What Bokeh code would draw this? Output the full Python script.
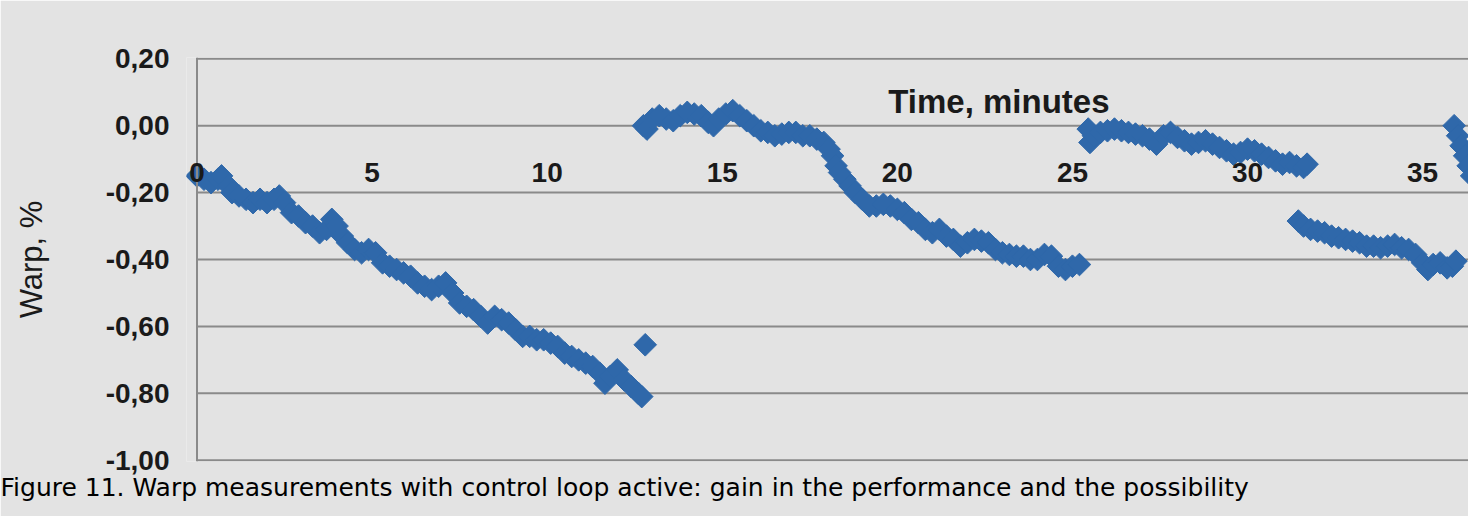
import math
from bokeh.plotting import figure
from bokeh.models import FixedTicker, Range1d, Label, LabelSet, ColumnDataSource, Span, Title
from bokeh.core.properties import value
from bokeh.embed import file_html
from bokeh.resources import INLINE

# ---------------- data ----------------
seg1_t = [0.0, 0.2, 0.4, 0.6, 0.7, 0.9, 1.0, 1.2, 1.4, 1.6, 1.8, 2.0, 2.2, 2.35, 2.5, 2.7, 2.9,
          3.1, 3.3, 3.5, 3.7, 3.85, 4.0, 4.15, 4.3, 4.5, 4.7, 4.9, 5.1, 5.3, 5.5, 5.7, 5.9,
          6.1, 6.3, 6.5, 6.7, 6.9, 7.1, 7.3, 7.5, 7.7, 7.9, 8.1, 8.3, 8.5, 8.7, 8.9, 9.1,
          9.3, 9.5, 9.7, 9.9, 10.1, 10.3, 10.5, 10.7, 10.9, 11.1, 11.3, 11.5, 11.65, 11.8,
          12.0, 12.2, 12.4, 12.6, 12.7]
seg1_w = [-0.15, -0.16, -0.17, -0.16, -0.15, -0.18, -0.20, -0.21, -0.22, -0.23, -0.22, -0.23,
          -0.22, -0.21, -0.23, -0.26, -0.27, -0.29, -0.30, -0.32, -0.31, -0.28, -0.30, -0.33,
          -0.35, -0.37, -0.38, -0.37, -0.38, -0.41, -0.42, -0.43, -0.44, -0.45, -0.47, -0.48,
          -0.49, -0.48, -0.47, -0.50, -0.53, -0.54, -0.55, -0.57, -0.59, -0.57, -0.58, -0.59,
          -0.61, -0.63, -0.63, -0.64, -0.64, -0.65, -0.66, -0.68, -0.69, -0.70, -0.71, -0.72,
          -0.74, -0.77, -0.75, -0.73, -0.76, -0.78, -0.80, -0.81]

outlier_t = [12.8]
outlier_w = [-0.655]

seg2_t = [12.75, 12.85, 13.0, 13.2, 13.4, 13.6, 13.8, 14.0, 14.2, 14.4, 14.6, 14.75, 14.9,
          15.1, 15.3, 15.5, 15.7, 15.9, 16.1, 16.3, 16.5, 16.7, 16.9, 17.1, 17.3, 17.5, 17.7,
          17.9, 18.05, 18.15, 18.25, 18.35, 18.5, 18.65, 18.8, 19.0, 19.2, 19.4, 19.6, 19.8,
          20.0, 20.2, 20.4, 20.6, 20.8, 21.0, 21.2, 21.4, 21.6, 21.8, 22.0, 22.2, 22.4, 22.6,
          22.8, 23.0, 23.2, 23.4, 23.6, 23.8, 24.0, 24.2, 24.4, 24.6, 24.8, 25.0, 25.2]
seg2_w = [0.00, -0.01, 0.02, 0.03, 0.02, 0.015, 0.03, 0.04, 0.035, 0.03, 0.01, 0.00, 0.02,
          0.035, 0.045, 0.03, 0.015, 0.00, -0.015, -0.02, -0.03, -0.025, -0.02, -0.02, -0.03,
          -0.03, -0.04, -0.05, -0.07, -0.09, -0.12, -0.14, -0.16, -0.18, -0.20, -0.22, -0.24,
          -0.24, -0.235, -0.24, -0.25, -0.26, -0.28, -0.29, -0.31, -0.32, -0.31, -0.33, -0.34,
          -0.36, -0.35, -0.34, -0.345, -0.35, -0.37, -0.38, -0.385, -0.39, -0.39, -0.40, -0.40,
          -0.385, -0.39, -0.42, -0.43, -0.42, -0.415]

seg3_t = [25.45, 25.5, 25.6, 25.8, 26.0, 26.2, 26.4, 26.6, 26.8, 27.0, 27.2, 27.4, 27.6, 27.8,
          28.0, 28.2, 28.4, 28.6, 28.8, 29.0, 29.2, 29.4, 29.6, 29.8, 30.0, 30.2, 30.4, 30.6,
          30.8, 31.0, 31.2, 31.4, 31.6, 31.7]
seg3_w = [-0.01, -0.05, -0.03, -0.02, -0.015, -0.01, -0.015, -0.02, -0.025, -0.03, -0.04,
          -0.055, -0.03, -0.02, -0.035, -0.045, -0.055, -0.05, -0.045, -0.055, -0.065, -0.075,
          -0.085, -0.08, -0.07, -0.075, -0.085, -0.095, -0.105, -0.115, -0.11, -0.12, -0.125,
          -0.115]

seg4_t = [31.45, 31.6, 31.8, 32.0, 32.2, 32.4, 32.6, 32.8, 33.0, 33.2, 33.4, 33.6, 33.8, 34.0,
          34.2, 34.4, 34.6, 34.8, 35.0, 35.15, 35.3, 35.5, 35.7, 35.85, 35.95]
seg4_w = [-0.285, -0.30, -0.31, -0.315, -0.32, -0.33, -0.335, -0.34, -0.345, -0.35, -0.36,
          -0.36, -0.365, -0.36, -0.355, -0.365, -0.37, -0.385, -0.41, -0.43, -0.415, -0.41,
          -0.425, -0.42, -0.405]

seg5_t = [35.9, 36.0, 36.1, 36.2, 36.3, 36.4]
seg5_w = [0.00, -0.03, -0.06, -0.09, -0.12, -0.15]

x_ticks = [0, 5, 10, 15, 20, 25, 30, 35]
x_tick_labels = ["0", "5", "10", "15", "20", "25", "30", "35"]
y_ticks = [0.2, 0.0, -0.2, -0.4, -0.6, -0.8, -1.0]
y_tick_labels = ["0,20", "0,00", "-0,20", "-0,40", "-0,60", "-0,80", "-1,00"]

x_title = "Time, minutes"
y_title = "Warp, %"
caption = "Figure 11. Warp measurements with control loop active: gain in the performance and the possibility"

# ---------------- figure ----------------
BG = "#e3e3e3"
GRID = "#8a8a8a"
BLUE = "#2f68aa"
TXT = "#1a1a1a"
X_END = 36.31

p = figure(width=1468, height=516, output_backend="svg", toolbar_location=None,
           x_range=Range1d(-0.3, X_END), y_range=Range1d(-1.004, 0.204),
           min_border_left=186, min_border_right=0, min_border_top=57, min_border_bottom=55)
p.background_fill_color = BG
p.border_fill_color = BG
p.outline_line_color = None

p.xaxis.visible = False
p.xgrid.visible = False
p.ygrid.visible = False

yt = FixedTicker(ticks=y_ticks)
p.yaxis.ticker = yt
p.yaxis.major_label_overrides = {t: l for t, l in zip(y_ticks, y_tick_labels)}
p.yaxis.axis_line_color = None
p.yaxis.major_tick_line_color = None
p.yaxis.major_tick_out = 0
p.yaxis.major_tick_in = 0
p.yaxis.minor_tick_line_color = None
p.yaxis.major_label_standoff = 17
p.yaxis.major_label_text_font = "Liberation Sans"
p.yaxis.major_label_text_font_style = "bold"
p.yaxis.major_label_text_font_size = "28px"
p.yaxis.major_label_text_color = TXT
p.yaxis.axis_label = y_title
p.yaxis.axis_label_text_font = "Liberation Sans"
p.yaxis.axis_label_text_font_style = "normal"
p.yaxis.axis_label_text_font_size = "31px"
p.yaxis.axis_label_text_color = TXT
p.yaxis.axis_label_standoff = 54

# horizontal gridlines starting at the value axis (x = 0)
p.segment(x0=[0] * len(y_ticks), x1=[X_END] * len(y_ticks), y0=y_ticks, y1=y_ticks,
          line_color=GRID, line_width=2)
# value axis line at x = 0
p.add_layout(Span(location=0, dimension="height", line_color=GRID, line_width=2))

all_t = seg1_t + outlier_t + seg2_t + seg3_t + seg4_t + seg5_t
all_w = seg1_w + outlier_w + seg2_w + seg3_w + seg4_w + seg5_w
src = ColumnDataSource(dict(t=all_t, w=all_w))
p.scatter("t", "w", source=src, marker="square", angle=math.pi / 4, size=16,
          fill_color=BLUE, line_color=BLUE)

# x tick labels (Excel-style axis crossing at 0)
xl = ColumnDataSource(dict(x=x_ticks, y=[-0.14] * len(x_ticks), text=x_tick_labels))
p.add_layout(LabelSet(x="x", y="y", text="text", source=xl, level="overlay",
                      text_align="center", text_baseline="middle",
                      text_font=value("Liberation Sans"), text_font_style="bold",
                      text_font_size="28px", text_color=TXT))

p.add_layout(Label(x=22.9, y=0.072, text=x_title, text_align="center", text_baseline="middle",
                   text_font="Liberation Sans", text_font_style="bold",
                   text_font_size="33px", text_color=TXT, level="overlay"))

p.add_layout(Title(text=caption, align="left", offset=-186, standoff=18,
                   text_font="DejaVu Sans", text_font_style="normal",
                   text_font_size="25px", text_color="#000000"), "below")

open("out.html", "w").write(file_html(p, INLINE))
